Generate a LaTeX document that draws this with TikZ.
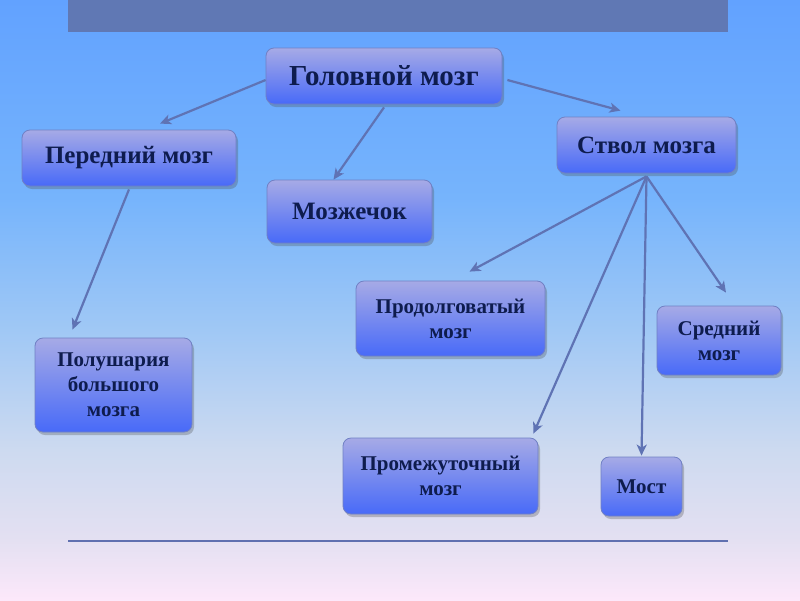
\documentclass[tikz,border=0pt]{standalone}
\usepackage{fontspec}
\setmainfont{Liberation Serif}
\usetikzlibrary{positioning,arrows.meta,shadows}
\definecolor{bgtop}{RGB}{98,162,255}
\definecolor{bghigh}{RGB}{118,180,252}
\definecolor{bgmid}{RGB}{160,200,245}
\definecolor{bgpale}{RGB}{205,218,240}
\definecolor{bglow}{RGB}{228,224,242}
\definecolor{bgbot}{RGB}{252,232,250}
\definecolor{barblue}{RGB}{96,120,180}
\definecolor{lineblue}{RGB}{96,112,176}
\definecolor{arrowblue}{RGB}{95,115,180}
\definecolor{boxtop}{RGB}{166,170,230}
\definecolor{boxbot}{RGB}{72,106,248}
\definecolor{boxedge}{RGB}{112,128,196}
\definecolor{boxtext}{RGB}{14,28,78}
% the path covers 25bp..75bp of the shading
\pgfdeclareverticalshading{bgfade}{100bp}{color(0bp)=(bgbot); color(25bp)=(bgbot); color(30bp)=(bglow); color(37.5bp)=(bgpale); color(47.5bp)=(bgmid); color(58.5bp)=(bghigh); color(75bp)=(bgtop); color(100bp)=(bgtop)}
\tikzset{
  flowarrow/.style={-{Stealth[length=11pt, width=10pt, inset=3pt]}, line width=2.2pt, draw=arrowblue},
  brainbox/.style={draw=boxedge, line width=0.8pt, rounded corners=8pt, top color=boxtop, bottom color=boxbot, text=boxtext, align=center, font=\bfseries\fontsize{25}{28}\selectfont, drop shadow={shadow xshift=2pt, shadow yshift=-3pt, opacity=0.3, fill=black!70}},
  partbox/.style={brainbox, font=\bfseries\fontsize{21}{25}\selectfont}
}
\begin{document}
\begin{tikzpicture}[x=1pt, y=-1pt]
  \useasboundingbox (0,0) rectangle (800,600);
  % background
  \fill[shading=bgfade] (0,0) rectangle (800,600);
  \fill[barblue] (68,0) rectangle (728,32);
  \draw[lineblue, line width=2pt] (68,541) -- (728,541);

  % nodes
  \node[brainbox, minimum width=236pt, minimum height=56pt, font=\bfseries\fontsize{29}{32}\selectfont] (brain) at (384,76) {Головной мозг};
  \node[brainbox, minimum width=214pt, minimum height=56pt] (fore) at (129,158) {Передний мозг};
  \node[brainbox, minimum width=179pt, minimum height=56pt] (stem) at (646.5,145) {Ствол мозга};
  \node[brainbox, minimum width=165pt, minimum height=63pt] (cereb) at (349.5,211.5) {Мозжечок};
  \node[partbox, minimum width=189pt, minimum height=75pt] (medulla) at (450.5,318.5) {Продолговатый\\мозг};
  \node[partbox, minimum width=157pt, minimum height=94pt] (hemi) at (113.5,385) {Полушария\\большого\\мозга};
  \node[partbox, minimum width=195pt, minimum height=76pt] (dien) at (440.5,476) {Промежуточный\\мозг};
  \node[partbox, minimum width=81pt, minimum height=59pt] (pons) at (641.5,486.5) {Мост};
  \node[partbox, minimum width=124pt, minimum height=69pt] (mid) at (719,340.5) {Средний\\мозг};

  % arrows
  \draw[flowarrow] ([yshift=-4pt]brain.west) -- ([xshift=31pt, yshift=6pt]fore.north);
  \draw[flowarrow] ([yshift=-3pt]brain.south) -- ([xshift=-16pt]cereb.north);
  \draw[flowarrow] ([xshift=5pt, yshift=-4pt]brain.east) -- ([xshift=-26pt, yshift=6pt]stem.north);
  \draw[flowarrow] ([yshift=-3pt]fore.south) -- ([xshift=-41pt, yshift=8pt]hemi.north);
  \draw[flowarrow] ([yshift=-3pt]stem.south) -- ([xshift=19pt, yshift=9pt]medulla.north);
  \draw[flowarrow] ([yshift=-3pt]stem.south) -- ([xshift=-5pt, yshift=4pt]dien.north east);
  \draw[flowarrow] ([yshift=-3pt]stem.south) -- ([yshift=1pt]pons.north);
  \draw[flowarrow] ([yshift=-3pt]stem.south) -- ([xshift=7pt, yshift=13pt]mid.north);
\end{tikzpicture}
\end{document}
